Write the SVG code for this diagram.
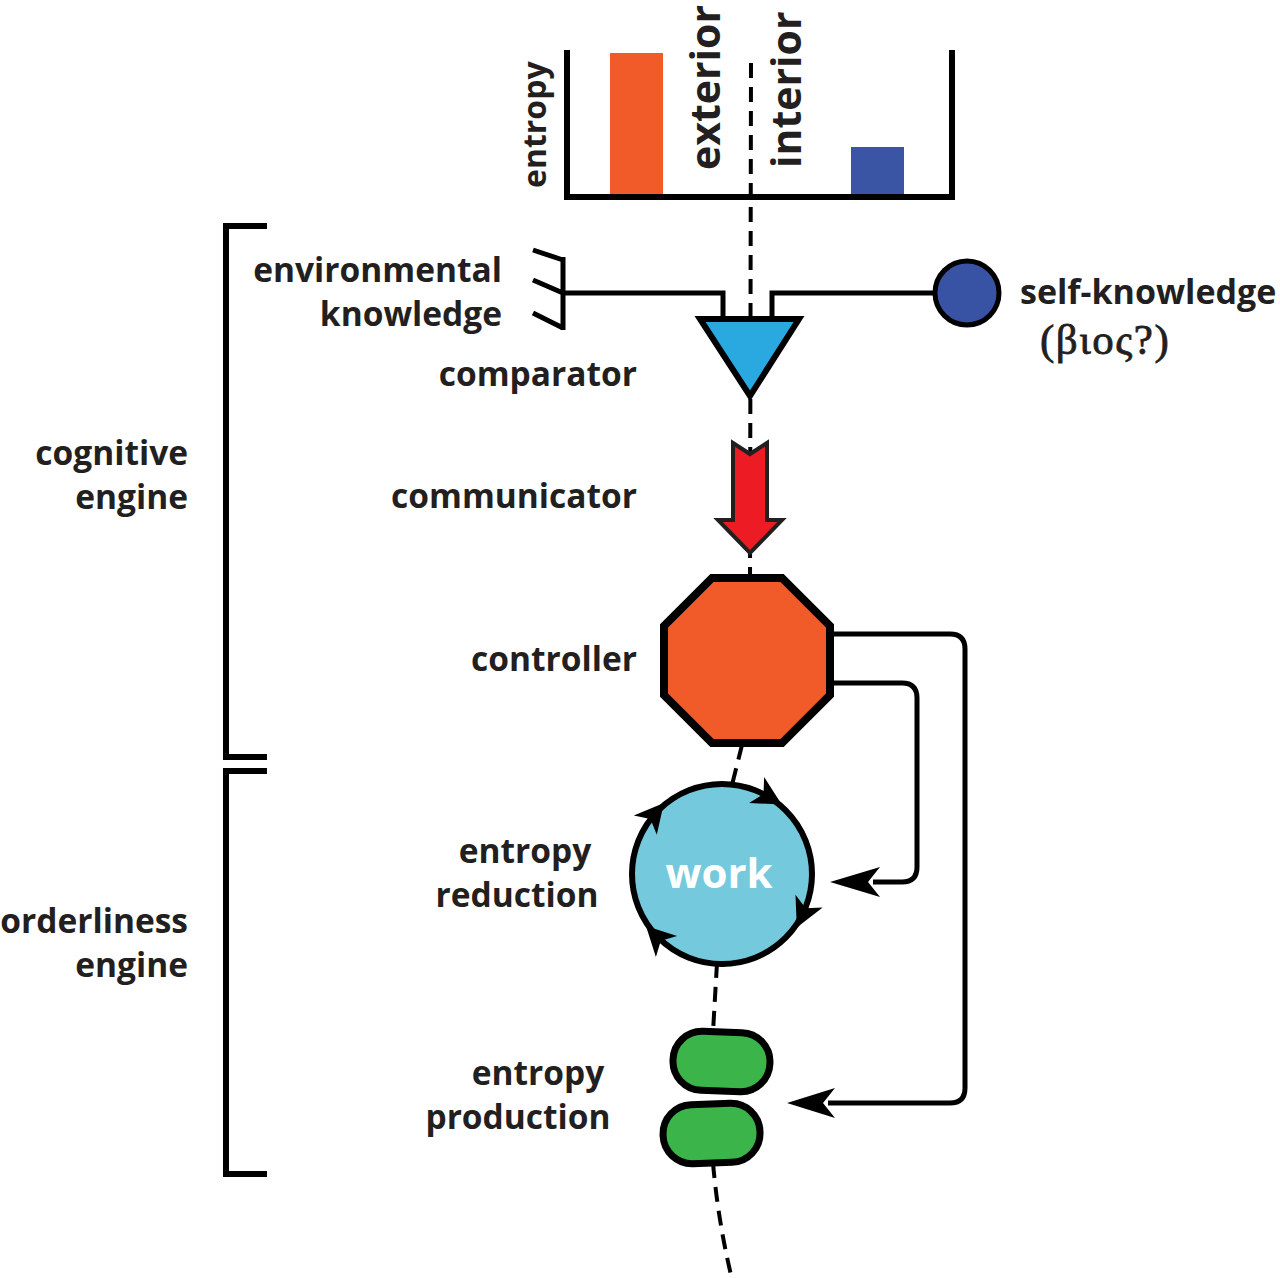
<svg xmlns="http://www.w3.org/2000/svg" width="1280" height="1278" viewBox="0 0 1280 1278">
<style>
.lbl{font-family:"Open Sans","Liberation Sans",sans-serif;font-weight:700;font-size:33.5px;fill:#231f20}
.ln{fill:none;stroke:#000;stroke-width:5;stroke-linecap:butt}
.dash{fill:none;stroke:#000;stroke-width:4;stroke-dasharray:15 9}
.ah{fill:#000}
</style>
<defs>
<path id="cah" d="M17,0 L-12,-15 L-4,0 L-12,15 Z"/>
</defs>
<rect width="1280" height="1278" fill="#fff"/>

<g id="connectors">
<path class="dash" d="M751,63 L750,585 M742,745 L732,785 M717,963 L713,1032 M713,1163 Q718,1220 731,1275"/>
<path class="ln" d="M563,293 L723,293 L723,320 M772,320 L772,293 L936,293"/>
<path class="ln" d="M830,634 L950,634 Q965,634 965,649 L965,1088 Q965,1103 950,1103 L828,1103"/>
<path class="ah" d="M787,1103 L835,1088 L823,1103 L835,1118 Z"/>
<path class="ln" d="M830,683 L902,683 Q917,683 917,698 L917,867 Q917,882 902,882 L873,882"/>
<path class="ah" d="M830,882 L880,867 L868,882 L880,897 Z"/>
</g>

<g id="chart">
<rect x="610" y="53" width="53" height="142" fill="#f15a29"/>
<rect x="851" y="147" width="53" height="48" fill="#3a55a4"/>
<path d="M567,50 L567,197 L952,197 L952,50" fill="none" stroke="#000" stroke-width="6"/>
<text class="lbl" style="font-size:32px" transform="translate(546,188) rotate(-90)">entropy</text>
<text class="lbl" style="font-size:41px" transform="translate(720,170) rotate(-90)">exterior</text>
<text class="lbl" style="font-size:41px" transform="translate(801,168) rotate(-90)">interior</text>
</g>

<g id="brackets">
<path d="M267,226 L226,226 L226,757 L267,757" fill="none" stroke="#000" stroke-width="6"/>
<path d="M267,771 L226,771 L226,1174 L267,1174" fill="none" stroke="#000" stroke-width="6"/>
<text class="lbl" x="188" y="465" text-anchor="end">cognitive</text>
<text class="lbl" x="188" y="509" text-anchor="end">engine</text>
<text class="lbl" x="188" y="933" text-anchor="end">orderliness</text>
<text class="lbl" x="188" y="977" text-anchor="end">engine</text>
</g>

<g id="env-knowledge">
<path d="M533,250 L563,260 M533,280 L563,293 M533,313 L563,328 M563,257 L563,330" fill="none" stroke="#000" stroke-width="5"/>
<text class="lbl" x="502" y="282" text-anchor="end">environmental</text>
<text class="lbl" x="502" y="326" text-anchor="end">knowledge</text>
</g>

<g id="self-knowledge">
<circle cx="967" cy="293" r="32" fill="#3953a4" stroke="#000" stroke-width="5"/>
<text class="lbl" x="1020" y="304" style="font-size:34px">self-knowledge</text>
<text x="1040" y="354" style="font-family:'Liberation Serif','DejaVu Serif',serif;font-size:43px;letter-spacing:1.5px;fill:#231f20;stroke:#231f20;stroke-width:0.8">(βιος?)</text>
</g>

<g id="comparator">
<path d="M700,319 L799,319 L750,396 Z" fill="#29a9e0" stroke="#000" stroke-width="6" stroke-linejoin="miter"/>
<text class="lbl" x="637" y="386" text-anchor="end">comparator</text>
</g>

<g id="communicator">
<path d="M733,443 L750,454 L767,443 L767,520 L782,520 L750,553 L718,520 L733,520 Z" fill="#ed1c24" stroke="#231f20" stroke-width="4"/>
<text class="lbl" x="637" y="508" text-anchor="end">communicator</text>
</g>

<g id="controller">
<path d="M712,578 L782,578 L830,626 L830,695 L782,743 L712,743 L664,695 L664,626 Z" fill="#f15a29" stroke="#000" stroke-width="8" stroke-linejoin="miter"/>
<text class="lbl" x="637" y="671" text-anchor="end">controller</text>
</g>

<g id="work">
<circle cx="722" cy="874" r="90" fill="#74c9dd" stroke="#000" stroke-width="6"/>
<use href="#cah" transform="translate(767,796) rotate(30)"/>
<use href="#cah" transform="translate(653,816) rotate(-50)"/>
<use href="#cah" transform="translate(804,912) rotate(115)"/>
<use href="#cah" transform="translate(658,938) rotate(225)"/>
<text x="719" y="888" text-anchor="middle" style="font-family:'Open Sans','Liberation Sans',sans-serif;font-weight:700;font-size:42px;fill:#fff">work</text>
<text class="lbl" x="525" y="863" text-anchor="middle">entropy</text>
<text class="lbl" x="517" y="907" text-anchor="middle">reduction</text>
</g>

<g id="production">
<rect x="673" y="1032" width="97" height="59" rx="29" fill="#3bb54a" stroke="#000" stroke-width="7" transform="rotate(2 721 1061)"/>
<rect x="663" y="1104" width="97" height="59" rx="29" fill="#3bb54a" stroke="#000" stroke-width="7" transform="rotate(-2 711 1133)"/>
<text class="lbl" x="538" y="1085" text-anchor="middle">entropy</text>
<text class="lbl" x="518" y="1129" text-anchor="middle">production</text>
</g>
</svg>
